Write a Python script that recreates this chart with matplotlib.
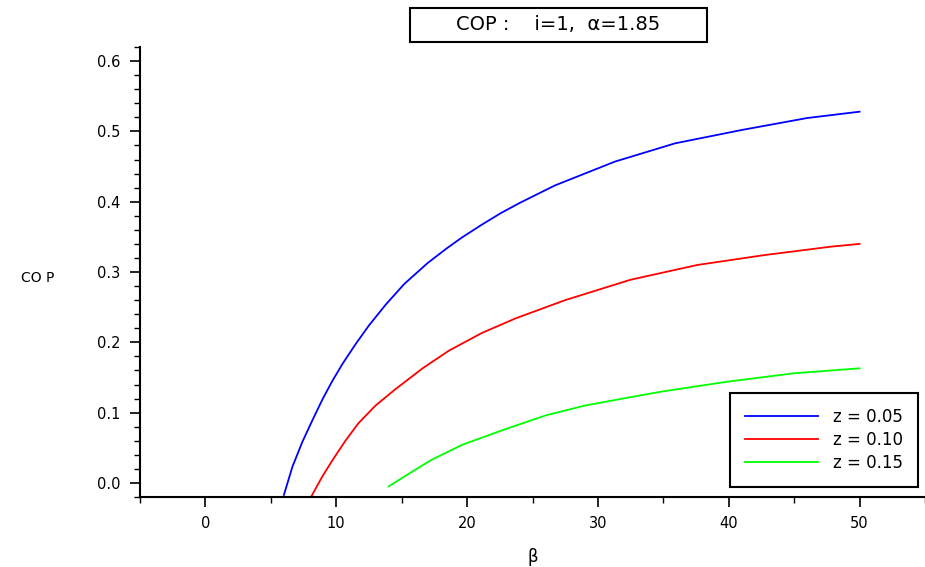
import matplotlib
matplotlib.use('Agg')
import matplotlib.pyplot as plt
from matplotlib.patches import Rectangle
from matplotlib.ticker import MultipleLocator

# values
beta_z005 = [6.0, 6.65, 7.4, 8.2, 8.95, 9.7, 10.5, 11.5, 12.5, 13.8, 15.2, 17.0,
             18.4, 19.6, 21.1, 22.6, 24.0, 26.7, 31.3, 35.9, 41.0, 46.0, 50.0]
cop_z005 = [-0.017, 0.023, 0.058, 0.090, 0.119, 0.145, 0.170, 0.198, 0.224, 0.254,
            0.283, 0.313, 0.333, 0.349, 0.367, 0.384, 0.398, 0.423, 0.457, 0.483,
            0.502, 0.519, 0.528]

beta_z010 = [8.1, 8.9, 9.7, 10.7, 11.7, 13.0, 14.5, 16.6, 18.6, 21.1, 23.7, 27.5,
             32.5, 37.6, 42.7, 47.8, 50.0]
cop_z010 = [-0.019, 0.008, 0.032, 0.060, 0.085, 0.110, 0.133, 0.163, 0.188, 0.213,
            0.234, 0.260, 0.289, 0.310, 0.324, 0.336, 0.340]

beta_z015 = [14.0, 15.8, 17.3, 19.6, 22.7, 26.0, 29.0, 32.2, 34.9, 39.9, 45.0, 50.0]
cop_z015 = [-0.005, 0.016, 0.033, 0.054, 0.075, 0.096, 0.110, 0.121, 0.130, 0.144,
            0.156, 0.163]

labels = ['z = 0.05', 'z = 0.10', 'z = 0.15']
colors = ['#0000ff', '#ff0000', '#00ff00']

plt.rcParams['font.family'] = ['DejaVu Sans']

fig = plt.figure(figsize=(9.25, 5.67), dpi=100)
ax = fig.add_axes([140 / 925, 1 - 497 / 567, 785 / 925, 450 / 567])

series = [(beta_z005, cop_z005), (beta_z010, cop_z010), (beta_z015, cop_z015)]
for (b, c), lab, col in zip(series, labels, colors):
    ax.plot(b, c, color=col, lw=1.3, label=lab)

ax.set_xlim(-5, 55)
ax.set_ylim(-0.02, 0.62)
ax.set_xticks([0, 10, 20, 30, 40, 50])
ax.set_yticks([0.0, 0.1, 0.2, 0.3, 0.4, 0.5, 0.6])
ax.set_yticklabels(['0.0', '0.1', '0.2', '0.3', '0.4', '0.5', '0.6'])
ax.xaxis.set_minor_locator(MultipleLocator(5))
ax.yaxis.set_minor_locator(MultipleLocator(0.02))
ax.tick_params(which='major', direction='out', length=7, width=1.2,
               labelsize=10.5, pad=7)
ax.tick_params(which='minor', direction='out', length=4, width=1.0)

ax.spines['top'].set_visible(False)
ax.spines['right'].set_visible(False)
ax.spines['left'].set_linewidth(1.5)
ax.spines['bottom'].set_linewidth(1.5)

ax.set_xlabel('β', fontsize=12, labelpad=12)
ax.set_ylabel('CO P', fontsize=10, rotation=0, labelpad=0)
ax.yaxis.set_label_coords(-0.13, 0.47)

# title box
fig.patches.append(Rectangle((410 / 925, 1 - 42 / 567), 297 / 925, 34 / 567,
                             transform=fig.transFigure, fc='white', ec='black',
                             lw=1.5))
fig.text(558 / 925, 1 - 25 / 567, 'COP :    i=1,  α=1.85', fontsize=14,
         ha='center', va='center')

leg = ax.legend(loc='lower right', bbox_to_anchor=(0.991, 0.022),
                borderaxespad=0, fontsize=12, handlelength=4.4,
                fancybox=False, framealpha=1, edgecolor='black',
                borderpad=0.9, labelspacing=0.3, handletextpad=0.9)
leg.get_frame().set_linewidth(1.5)

fig.savefig('out.png', dpi=100)
